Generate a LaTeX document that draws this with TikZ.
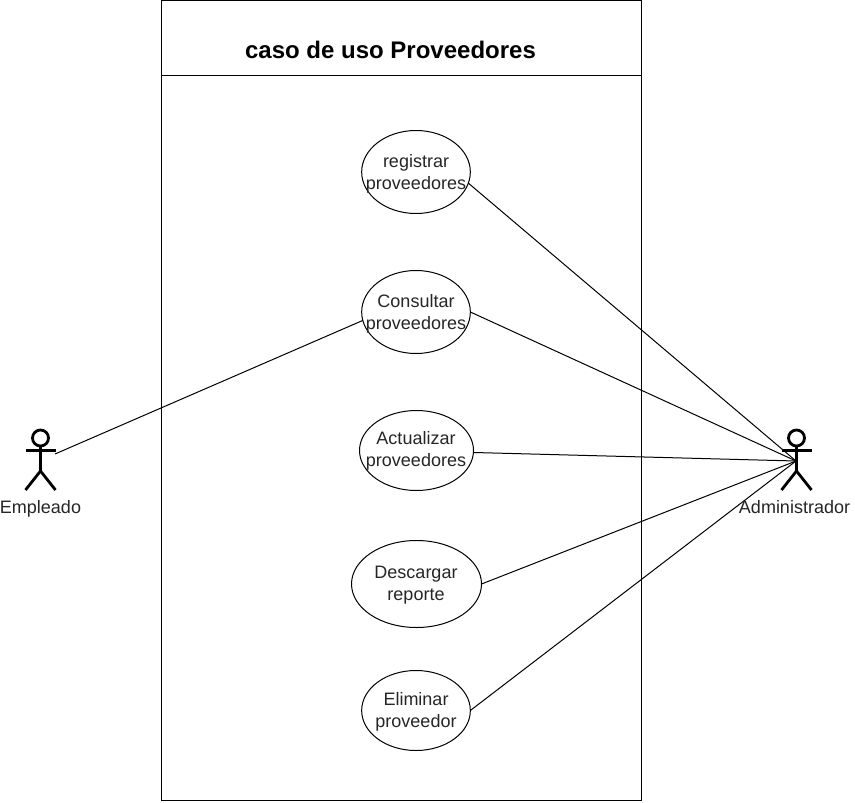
\documentclass[tikz,border=0pt]{standalone}
\usepackage{fontspec}
\setmainfont{Liberation Sans}
\usetikzlibrary{shapes.geometric}
\tikzset{
  x=0.75pt,y=-0.75pt,
  uc/.style={draw=black,line width=0.75pt,ellipse,inner sep=0pt,outer sep=0pt},
  lbl/.style={font=\fontsize{13.5pt}{16.5pt}\selectfont,text=black!85,align=center},
  link/.style={draw=black,line width=0.75pt},
  fig/.style={draw=black,line width=2.1pt}
}
\begin{document}
\begin{tikzpicture}
\useasboundingbox (0,0) rectangle (855,802);
\fill[white] (0,0) rectangle (855,802);
\draw[line width=0.75pt] (161.5,0.5) rectangle (641,800.5);
\draw[line width=0.75pt] (161.5,75.5) -- (641,75.5);
\node[font=\bfseries\fontsize{18pt}{20pt}\selectfont] (title) at (390.5,50) {caso de uso Proveedores};
\node[uc,minimum width=81.5pt,minimum height=62.25pt] at (416,172) (a) {};
\node[uc,minimum width=81.5pt,minimum height=62.25pt] at (416,312) (b) {};
\node[uc,minimum width=85.5pt,minimum height=60pt] at (416.5,450.5) (c) {};
\node[uc,minimum width=97.5pt,minimum height=65.25pt] at (416.5,584) (d) {};
\node[uc,minimum width=81.5pt,minimum height=60pt] at (416,710.5) (e) {};
\node[lbl] (ta) at (416,174) {registrar\\proveedores};
\node[lbl] (tb) at (416,314) {Consultar\\proveedores};
\node[lbl] (tc) at (416,451) {Actualizar\\proveedores};
\node[lbl] (td) at (416,585) {Descargar\\reporte};
\node[lbl] (te) at (416,712) {Eliminar\\proveedor};
\coordinate (L) at (55,454);
\coordinate (R) at (796,461);
\draw[link] (L) -- (b.189);
\draw[link] (a.-12) -- (R);
\draw[link] (b.east) -- (R);
\draw[link] (c.-2) -- (R);
\draw[link] (d.east) -- (R);
\draw[link] (e.east) -- (R);
\foreach \cx in {40.5,796.5}{
  \draw[fig] (\cx,438) circle[radius=6pt];
  \draw[fig] (\cx,446) -- (\cx,471);
  \draw[fig] (\cx-15,450.5) -- (\cx+15,450.5);
  \draw[fig] (\cx,471) -- (\cx-15,490);
  \draw[fig] (\cx,471) -- (\cx+15,490);
}
\node[lbl] (le) at (40.5,509) {Empleado};
\node[lbl] (re) at (794.5,507) {Administrador};
\end{tikzpicture}
\end{document}
